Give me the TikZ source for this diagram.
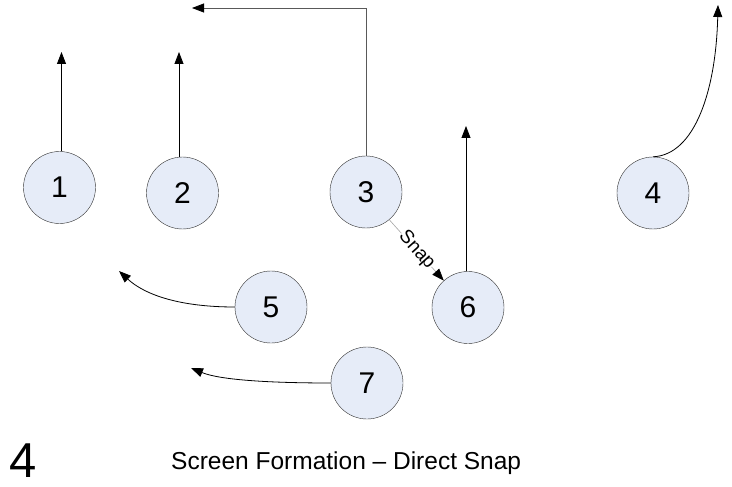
\documentclass[tikz,border=0pt]{standalone}
\usepackage{fontspec}
\setmainfont{Liberation Sans}
\usetikzlibrary{arrows.meta}
\definecolor{plfill}{RGB}{230,236,248}
\definecolor{plline}{RGB}{50,50,50}
\tikzset{
  player/.style={circle, draw=plline, fill=plfill, minimum size=72pt, inner sep=0pt, font=\fontsize{30}{32}\selectfont},
  route/.style={draw=black, line width=0.8pt, -{Triangle[length=12pt,width=9pt,color=black]}},
}
\begin{document}
\begin{tikzpicture}[x=1pt,y=-1pt]
\useasboundingbox (0,0) rectangle (732,487);
\node[player] (p1) at (59.5,187.5) {1};
\node[player] (p2) at (182.5,193) {2};
\node[player] (p3) at (366,192) {3};
\node[player] (p4) at (653,193) {4};
\node[player] (p5) at (271,307) {5};
\node[player] (p6) at (468,307.5) {6};
\node[player] (p7) at (367,383) {7};
\coordinate (t1) at (61.5,52);
\coordinate (t2) at (179,52);
\coordinate (c3) at (366,8);
\coordinate (t3) at (192,8);
\coordinate (t4) at (718,5);
\coordinate (t5) at (119,271);
\coordinate (t6) at (466,126);
\coordinate (t7) at (191,368);
\draw[route] (p1.north -| t1) -- (t1);
\draw[route] (p2.north -| t2) -- (t2);
\draw[route, draw=black!65] (p3.north) -- (c3) -- (t3);
\draw[route] (p4.north) .. controls (695,155) and (716,90) .. (t4);
\draw[route] (p5.west) .. controls (180,307) and (145,295) .. (t5);
\draw[route] (p6.north -| t6) -- (t6);
\draw[route] (p7.west) .. controls (270,383) and (220,380) .. (t7);
\draw[draw=gray!70, line width=0.6pt, -{Triangle[length=12pt,width=9pt,color=black]}] (p3.-50) -- node[sloped, pos=0.5, fill=white, inner sep=0.3pt, font=\fontsize{19}{20}\selectfont] {Snap} (p6.132);
\node[anchor=base, font=\fontsize{49}{50}\selectfont] (big) at (23.5,477) {4};
\node[anchor=base west, inner sep=0pt, font=\fontsize{24.5}{26}\selectfont] (title) at (171,469) {Screen Formation – Direct Snap};
\end{tikzpicture}
\end{document}
